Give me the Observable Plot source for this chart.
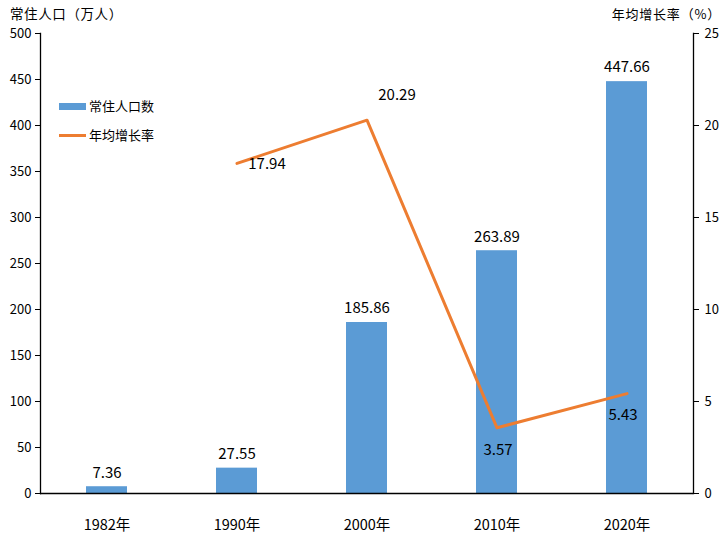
<!DOCTYPE html>
<html>
<head>
<meta charset="utf-8">
<script src="https://cdn.jsdelivr.net/npm/d3@7"></script>
<script src="https://cdn.jsdelivr.net/npm/@observablehq/plot@0.6"></script>
<style>
  body { margin: 0; background: #fff; font-family: "Noto Sans CJK SC", "DejaVu Sans", sans-serif; }
  #wrap { position: relative; width: 726px; height: 545px; }
  .t { position: absolute; font-size: 13px; line-height: 13px; color: #000; white-space: nowrap; }
  .lg { position: absolute; font-size: 13px; line-height: 14px; color: #000; display: flex; align-items: center; white-space: nowrap; }
</style>
</head>
<body>
<div id="wrap"></div>
<script>
const years = ["1982年", "1990年", "2000年", "2010年", "2020年"];
const population = [7.36, 27.55, 185.86, 263.89, 447.66];
const rateYears = ["1990年", "2000年", "2010年", "2020年"];
const rates = [17.94, 20.29, 3.57, 5.43];
const leftTicks = [0, 50, 100, 150, 200, 250, 300, 350, 400, 450, 500];
const rightTicks = [0, 5, 10, 15, 20, 25];

const RATIO = 500 / 25;
const barColor = "#5B9BD5";
const lineColor = "#ED7D31";

const bars = years.map((y, i) => ({year: y, value: population[i]}));
const line = rateYears.map((y, i) => ({year: y, rate: rates[i]}));
// label offsets relative to each line point
const lineLabelDx = [30, 30, 1, -4];
const lineLabelDy = [1, -25, 22, 22];

const chart = Plot.plot({
  width: 726,
  height: 545,
  marginLeft: 40,
  marginRight: 33,
  marginTop: 33,
  marginBottom: 52,
  style: {fontFamily: '"Noto Sans CJK SC", "DejaVu Sans", sans-serif', background: "#fff"},
  x: {domain: years, paddingInner: 0.686, paddingOuter: 0.343, label: null},
  y: {domain: [0, 500], label: null},
  marks: [
    Plot.barY(bars, {x: "year", y: "value", fill: barColor}),
    Plot.text(bars, {x: "year", y: "value", text: d => d.value.toFixed(2), dy: -14, fontSize: 15, fill: "#000"}),
    Plot.line(line, {x: "year", y: d => d.rate * RATIO, stroke: lineColor, strokeWidth: 3}),
    ...line.map((d, i) => Plot.text([d], {x: "year", y: v => v.rate * RATIO, text: v => v.rate.toFixed(2),
      dx: lineLabelDx[i], dy: lineLabelDy[i], fontSize: 15, fill: "#000"})),
    Plot.axisY({ticks: leftTicks, tickSize: 5, tickPadding: 4, fontSize: 13, label: null, anchor: "left"}),
    Plot.axisY({ticks: rightTicks.map(v => v * RATIO), tickFormat: v => String(v / RATIO), tickSize: 5, tickPadding: 6, fontSize: 13, label: null, anchor: "right"}),
    Plot.axisX({tickSize: 0, tickPadding: 26, fontSize: 14.5, label: null}),
    Plot.ruleY([0], {stroke: "#000", strokeWidth: 1.3}),
    Plot.frame({anchor: "left", stroke: "#000", strokeWidth: 1.3}),
    Plot.frame({anchor: "right", stroke: "#000", strokeWidth: 1.3})
  ]
});

const wrap = document.getElementById("wrap");
wrap.appendChild(chart);

function addText(txt, css) {
  const d = document.createElement("div");
  d.className = "t";
  d.textContent = txt;
  Object.assign(d.style, css);
  wrap.appendChild(d);
}
addText("常住人口（万人）", {left: "10px", top: "7px", fontSize: "13.5px", letterSpacing: "0.6px"});
addText("年均增长率（%）", {right: "5px", top: "7px", fontSize: "13px", letterSpacing: "0.8px"});

function addLegend(label, swatchCss, top) {
  const d = document.createElement("div");
  d.className = "lg";
  d.style.left = "59px";
  d.style.top = top + "px";
  const s = document.createElement("span");
  Object.assign(s.style, {display: "inline-block", width: "27px", marginRight: "3px"}, swatchCss);
  d.appendChild(s);
  const t = document.createElement("span");
  t.textContent = label;
  d.appendChild(t);
  wrap.appendChild(d);
}
addLegend("常住人口数", {height: "7px", background: barColor}, 99);
addLegend("年均增长率", {height: "3px", background: lineColor}, 128);
</script>
</body>
</html>
